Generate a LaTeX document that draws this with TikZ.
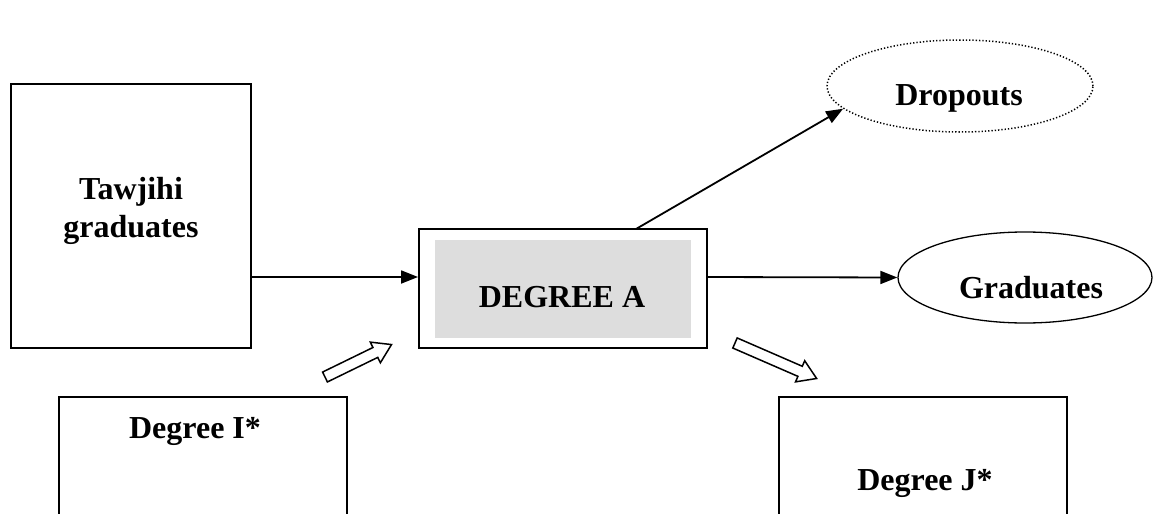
\documentclass[tikz,border=0pt]{standalone}
\usepackage{fontspec}
\setmainfont{Liberation Serif}
\usetikzlibrary{arrows.meta,shapes.geometric}
\definecolor{boxgray}{HTML}{DDDDDD}
\begin{document}
\begin{tikzpicture}[x=1pt,y=-1pt,
  lbl/.style={font=\fontsize{32}{38}\selectfont\bfseries, inner sep=0pt, anchor=base, align=center},
  plainbox/.style={draw=black, line width=2pt, rectangle, inner sep=0pt},
  conn/.style={line width=1.8pt, -{Triangle[length=17pt,width=13pt]}},
  oval/.style={draw=black, line width=1.3pt, ellipse, inner sep=0pt},
  blockarrow/.style={draw=black, line width=1.5pt, fill=white, line join=miter}
]
\useasboundingbox (0,0) rectangle (1157,514);
\clip (0,0) rectangle (1157,514);

% Tawjihi graduates
\node[plainbox, minimum width=240pt, minimum height=264pt] (tawjihi) at (131,216) {};
\node[lbl] (tawtext) at (131,237) {Tawjihi\\graduates};

% Degree A
\node[plainbox, minimum width=288pt, minimum height=119pt] (dega) at (563,288.5) {};
\node[fill=boxgray, minimum width=256pt, minimum height=98pt, inner sep=0pt] (degafill) at (563,289) {};
\node[lbl] (degatext) at (562,307) {DEGREE A};

% Dropouts
\node[oval, dotted, line width=1.5pt, minimum width=266pt, minimum height=92pt] (drop) at (960,86) {};
\node[lbl] (droptext) at (959,105) {Dropouts};

% Graduates
\node[oval, minimum width=254pt, minimum height=91pt] (grad) at (1025,277.5) {};
\node[lbl] (gradtext) at (1031,298) {Graduates};

% Degree I*
\node[plainbox, minimum width=288pt, minimum height=200pt] (degi) at (203,497) {};
\node[lbl] (degitext) at (195,438) {Degree I*};

% Degree J*
\node[plainbox, minimum width=288pt, minimum height=200pt] (degj) at (923,497) {};
\node[lbl] (degjtext) at (925,490) {Degree J*};

% connectors
\coordinate (tawout) at (251,277);
\draw[conn] (tawout) -- (dega.west |- tawout);
\coordinate (degaout) at (707,277);
\draw[conn] (degaout) -- (grad.west);
\coordinate (dropstart) at (636,229);
\draw[conn] (dropstart) -- (drop.191);

% block arrows
\coordinate (ba1) at (325,377);
\draw[blockarrow, shift={(ba1)}, rotate=26]
  (0,-5.5) -- (56,-5.5) -- (56,-11.5) -- (74,0) -- (56,11.5) -- (56,5.5) -- (0,5.5) -- cycle;
\coordinate (ba2) at (735,343);
\draw[blockarrow, shift={(ba2)}, rotate=-23.5]
  (0,-5.5) -- (71,-5.5) -- (71,-11.5) -- (89,0) -- (71,11.5) -- (71,5.5) -- (0,5.5) -- cycle;
\end{tikzpicture}
\end{document}
